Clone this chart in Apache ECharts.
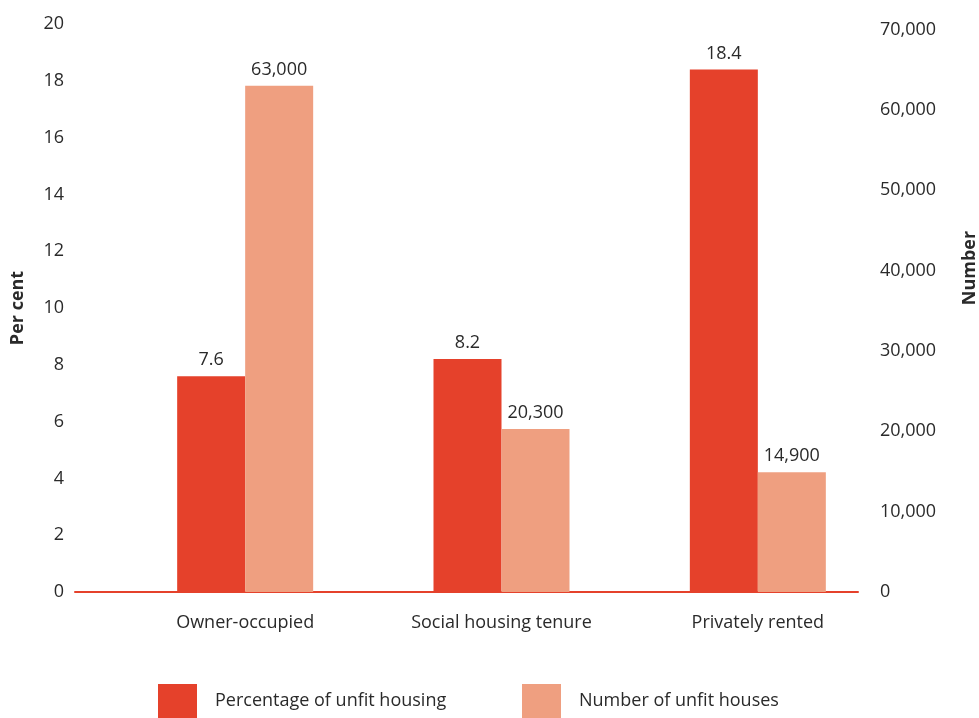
<!DOCTYPE html>
<html>
<head>
<meta charset="utf-8">
<script src="https://cdn.jsdelivr.net/npm/echarts@6/dist/echarts.min.js"></script>
<style>
  html, body { margin: 0; padding: 0; background: #ffffff; }
  #chart { width: 979px; height: 718px; }
</style>
</head>
<body>
<div id="chart"></div>
<script>
// Housing tenure categories
const categories = ['Owner-occupied', 'Social housing tenure', 'Privately rented'];
// Share of unfit dwellings in each tenure (per cent)
const percentUnfit = [7.6, 8.2, 18.4];
// Count of unfit dwellings in each tenure
const numberUnfit = [63000, 20300, 14900];
// Series names
const seriesNames = ['Percentage of unfit housing', 'Number of unfit houses'];
// Axis ranges (the count scale runs a little past its last labelled tick)
const percentAxis = { min: 0, max: 20, interval: 2 };
const numberAxis = { min: 0, max: 70700, interval: 10000 };

const RED = '#e5412b';
const SALMON = '#ef9f80';
const TEXT = '#2a2a2a';
const FONT = 'Open Sans';
const FS = 18;

const fmt = v => Number(v).toLocaleString('en-US');

const chart = echarts.init(document.getElementById('chart'), null, { renderer: 'canvas' });

const legendBase = {
  top: 684,
  padding: 0,
  itemWidth: 39,
  itemHeight: 34,
  icon: 'rect',
  textStyle: { fontSize: FS, color: TEXT, fontFamily: FONT, padding: [8, 0, 0, 13] }
};

chart.setOption({
  backgroundColor: '#ffffff',
  animation: false,
  textStyle: { fontFamily: FONT, color: TEXT },
  grid: [
    // bars
    { left: 117, right: 93, top: 24, bottom: 126 },
    // baseline and scales
    { left: 75, right: 121, top: 24, bottom: 126 }
  ],
  legend: [
    { ...legendBase, left: 158, data: [seriesNames[0]] },
    { ...legendBase, left: 522, data: [seriesNames[1]] }
  ],
  xAxis: [
    {
      type: 'category',
      gridIndex: 0,
      data: categories,
      axisLine: { show: false },
      axisTick: { show: false },
      axisLabel: { fontSize: FS, color: TEXT, margin: 22, fontFamily: FONT }
    },
    {
      type: 'value',
      gridIndex: 1,
      min: 0, max: 1,
      axisLine: { show: true, onZero: false, lineStyle: { color: RED, width: 2 } },
      axisTick: { show: false },
      axisLabel: { show: false },
      splitLine: { show: false }
    }
  ],
  yAxis: [
    { type: 'value', gridIndex: 0, show: false, ...percentAxis },
    { type: 'value', gridIndex: 0, show: false, ...numberAxis },
    {
      type: 'value',
      gridIndex: 1,
      position: 'left',
      ...percentAxis,
      name: 'Per cent',
      nameLocation: 'middle',
      nameGap: 48,
      nameTextStyle: { fontSize: FS, fontWeight: 'bold', color: TEXT, fontFamily: FONT },
      axisLine: { show: false },
      axisTick: { show: false },
      splitLine: { show: false },
      axisLabel: { fontSize: FS, color: TEXT, margin: 11, fontFamily: FONT }
    },
    {
      type: 'value',
      gridIndex: 1,
      position: 'right',
      ...numberAxis,
      axisLine: { show: false },
      axisTick: { show: false },
      splitLine: { show: false },
      axisLabel: {
        fontSize: FS, color: TEXT, margin: 22, fontFamily: FONT,
        showMaxLabel: false, formatter: fmt
      }
    }
  ],
  graphic: [
    {
      type: 'text',
      x: 979 - 9,
      y: 268,
      rotation: Math.PI / 2,
      style: {
        text: 'Number',
        fill: TEXT,
        font: 'bold ' + FS + 'px ' + FONT,
        align: 'center',
        verticalAlign: 'middle'
      }
    }
  ],
  series: [
    {
      name: seriesNames[0],
      type: 'bar',
      xAxisIndex: 0,
      yAxisIndex: 0,
      data: percentUnfit,
      barWidth: 68,
      barGap: '0%',
      itemStyle: { color: RED },
      label: {
        show: true, position: 'top', distance: 7,
        fontSize: FS, color: TEXT, fontFamily: FONT
      }
    },
    {
      name: seriesNames[1],
      type: 'bar',
      xAxisIndex: 0,
      yAxisIndex: 1,
      data: numberUnfit,
      barWidth: 68,
      barGap: '0%',
      itemStyle: { color: SALMON },
      label: {
        show: true, position: 'top', distance: 7,
        fontSize: FS, color: TEXT, fontFamily: FONT,
        formatter: p => fmt(p.value)
      }
    }
  ]
});
</script>
</body>
</html>
